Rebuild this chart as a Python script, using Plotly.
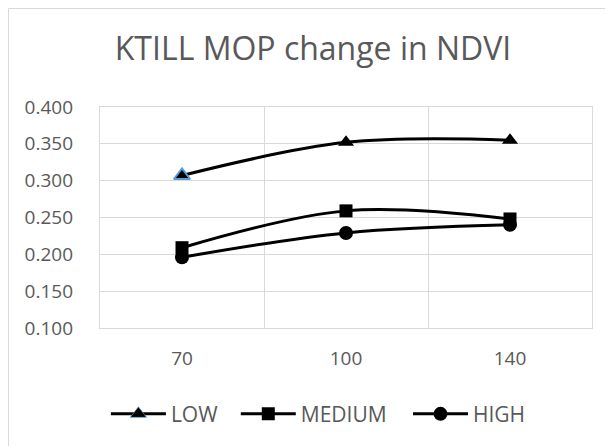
import plotly.graph_objects as go

categories = ["70", "100", "140"]
low = [0.307, 0.352, 0.355]
medium = [0.209, 0.259, 0.248]
high = [0.196, 0.229, 0.240]

FONT = "Open Sans"
TXT = "#595959"
GRID = "#d9d9d9"

fig = go.Figure()

fig.add_trace(go.Scatter(
    x=categories, y=low, name="LOW", mode="lines+markers", legend="legend",
    line=dict(color="black", width=3, shape="spline", smoothing=1),
    marker=dict(symbol="triangle-up", size=14, color="black",
                line=dict(color=["#5b9bd5", "black", "black"], width=[2, 0, 0])),
))
fig.add_trace(go.Scatter(
    x=categories, y=medium, name="MEDIUM", mode="lines+markers", legend="legend2",
    line=dict(color="black", width=3, shape="spline", smoothing=1),
    marker=dict(symbol="square", size=13, color="black"),
))
fig.add_trace(go.Scatter(
    x=categories, y=high, name="HIGH", mode="lines+markers", legend="legend3",
    line=dict(color="black", width=3, shape="spline", smoothing=1),
    marker=dict(symbol="circle", size=14, color="black"),
))

# chart frame, left and top edges
fig.add_shape(type="line", xref="paper", yref="paper",
              x0=-0.186, x1=-0.186, y0=-0.6, y1=1.4457,
              line=dict(color=GRID, width=1))
fig.add_shape(type="line", xref="paper", yref="paper",
              x0=-0.186, x1=1.1, y0=1.4457, y1=1.4457,
              line=dict(color=GRID, width=1))


def leg(x):
    return dict(orientation="h", x=x, xanchor="left", y=-0.39, yanchor="middle",
                font=dict(size=21, color=TXT), itemwidth=55,
                bgcolor="rgba(0,0,0,0)")


fig.update_layout(
    width=605, height=438,
    margin=dict(l=92, r=21, t=99, b=118),
    paper_bgcolor="white", plot_bgcolor="white",
    font=dict(family=FONT, color=TXT, size=19),
    title=dict(text="KTILL MOP change in NDVI", x=305 / 605, xanchor="center",
               y=1 - 41 / 438, yanchor="middle",
               font=dict(family=FONT, size=32, color=TXT)),
    showlegend=True,
    legend=leg(0.012),
    legend2=leg(0.276),
    legend3=leg(0.626),
)
fig.update_xaxes(
    type="category", range=[-0.5, 2.5], tickson="boundaries",
    showgrid=True, gridcolor=GRID, gridwidth=1.3,
    showline=True, linecolor=GRID, linewidth=1.3, mirror=True,
    ticks="", ticklabelstandoff=13, tickfont=dict(size=19, color=TXT),
    automargin=False,
)
fig.update_yaxes(
    range=[0.1, 0.4], dtick=0.05, tickformat=".3f",
    showgrid=True, gridcolor=GRID, gridwidth=1.3,
    showline=True, linecolor=GRID, linewidth=1.3, mirror=True,
    ticks="", ticklabelstandoff=22, tickfont=dict(size=19, color=TXT),
    zeroline=False, automargin=False,
)

fig.write_html("out.html")
